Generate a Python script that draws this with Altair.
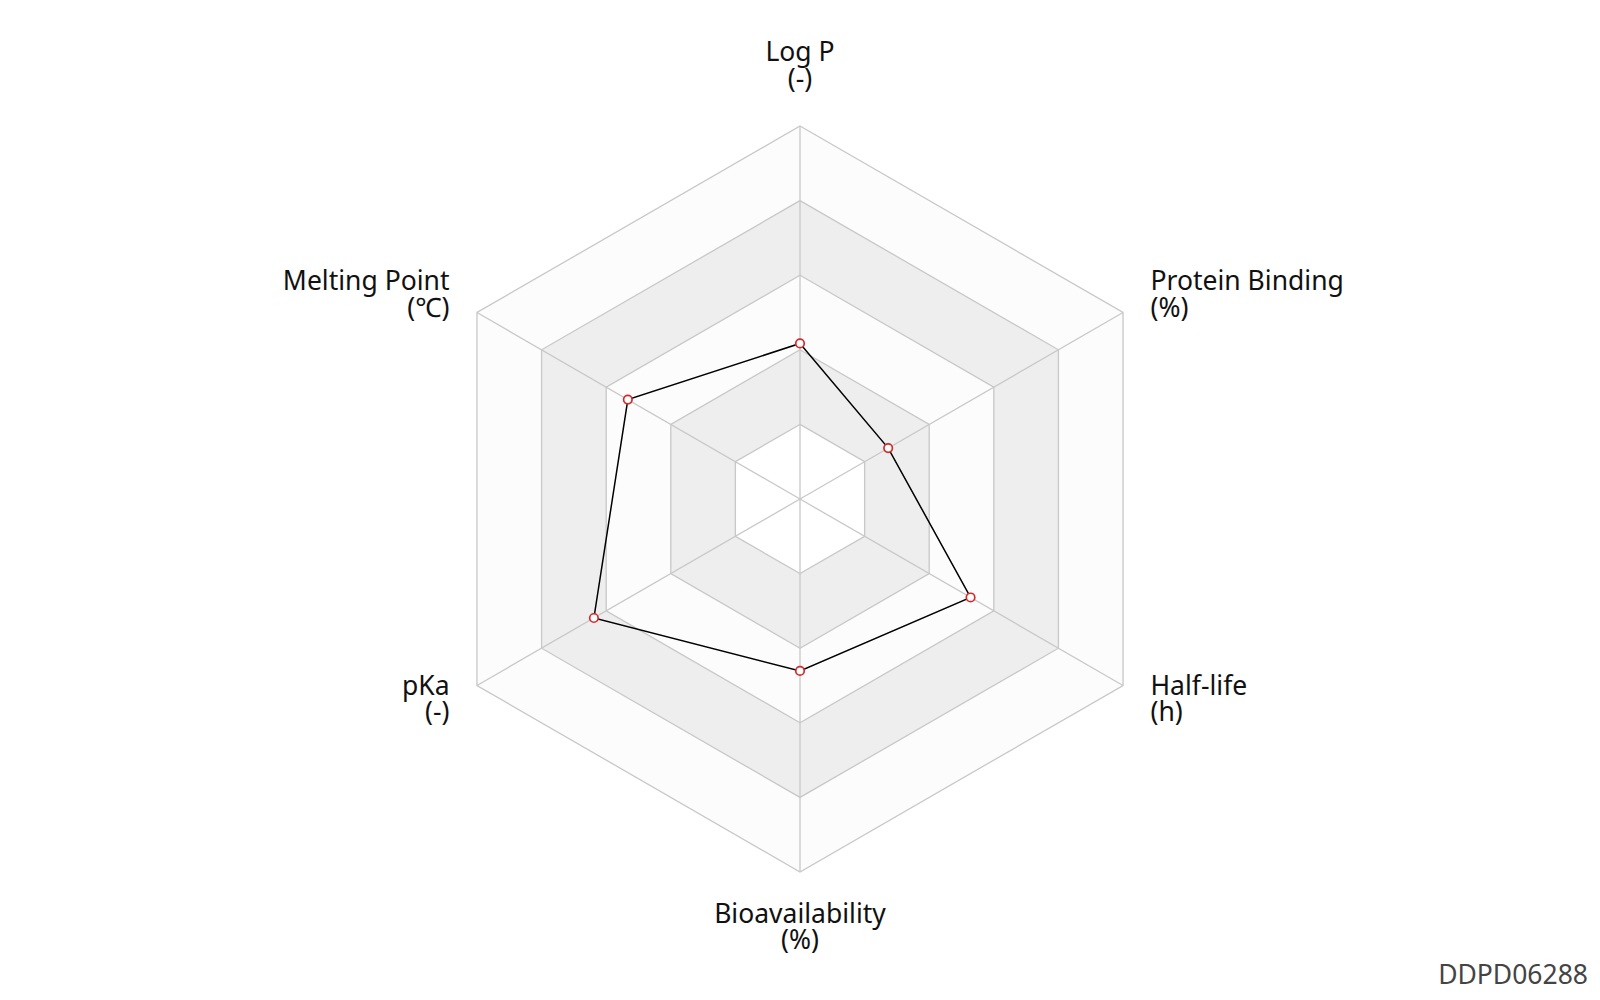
import altair as alt
import pandas as pd

# ---- data ----
axes = ["Log P", "Protein Binding", "Half-life", "Bioavailability", "pKa", "Melting Point"]
units = ["(-)", "(%)", "(h)", "(%)", "(-)", "(℃)"]
values = [0.417, 0.273, 0.528, 0.461, 0.638, 0.533]   # normalised 0..1
ring_levels = [1.0, 0.8, 0.6, 0.4, 0.2]
ring_fills = ["#fcfcfc", "#eeeeee", "#fcfcfc", "#eeeeee", "#ffffff"]
watermark = "DDPD06288"

# ---- layout ----
W, H = 1584, 984
R = 373.0
cx, cy = 792.0, 491.0
LABEL_R = 1.085
FONT = "Noto Sans"
GRID = "#c8c8c8"
FS = 26.5
LH = 26.5

xs = alt.Scale(domain=[-cx / R, (W - cx) / R], nice=False, zero=False)
ys = alt.Scale(domain=[-(H - cy) / R, cy / R], nice=False, zero=False)

n = len(axes)
ANG = "PI/2 - datum.idx*PI/3"

axis_df = pd.DataFrame({"idx": list(range(n)), "axis": axes, "unit": units, "value": values})
grid_df = pd.DataFrame(
    [{"ring": k, "level": lvl, "idx": i} for k, lvl in enumerate(ring_levels) for i in range(n)]
)

layers = []
for k, (lvl, col) in enumerate(zip(ring_levels, ring_fills)):
    layers.append(
        alt.Chart(grid_df)
        .transform_filter(alt.datum.ring == k)
        .transform_calculate(ang=ANG)
        .transform_calculate(gx="datum.level*cos(datum.ang)", gy="datum.level*sin(datum.ang)")
        .mark_line(interpolate="linear-closed", fill=col, stroke=GRID, strokeWidth=1.3)
        .encode(
            x=alt.X("gx:Q", scale=xs, axis=None),
            y=alt.Y("gy:Q", scale=ys, axis=None),
            order=alt.Order("idx:Q"),
        )
    )

spokes = (
    alt.Chart(axis_df)
    .transform_calculate(ang=ANG)
    .transform_calculate(ex="cos(datum.ang)", ey="sin(datum.ang)", zx="0", zy="0")
    .mark_rule(stroke=GRID, strokeWidth=1.3)
    .encode(
        x=alt.X("zx:Q", scale=xs, axis=None),
        y=alt.Y("zy:Q", scale=ys, axis=None),
        x2="ex:Q",
        y2="ey:Q",
    )
)

data_base = (
    alt.Chart(axis_df)
    .transform_calculate(ang=ANG)
    .transform_calculate(px="datum.value*cos(datum.ang)", py="datum.value*sin(datum.ang)")
)
poly = data_base.mark_line(interpolate="linear-closed", stroke="black", strokeWidth=1.5).encode(
    x=alt.X("px:Q", scale=xs, axis=None),
    y=alt.Y("py:Q", scale=ys, axis=None),
    order=alt.Order("idx:Q"),
)
pts = data_base.mark_point(
    shape="circle", fill="white", stroke="#d42a2a", strokeWidth=1.7, size=72, opacity=1, filled=False
).encode(
    x=alt.X("px:Q", scale=xs, axis=None),
    y=alt.Y("py:Q", scale=ys, axis=None),
)

label_base = (
    alt.Chart(axis_df)
    .transform_calculate(ang=ANG)
    .transform_calculate(
        lx=f"{LABEL_R}*cos(datum.ang)",
        ly=f"{LABEL_R}*sin(datum.ang)",
        lab="[datum.axis, datum.unit]",
    )
)


def label_layer(idxs, align, dy):
    return (
        label_base.transform_filter(alt.FieldOneOfPredicate(field="idx", oneOf=idxs))
        .mark_text(align=align, baseline="middle", dy=dy, font=FONT, fontSize=FS, lineHeight=LH, color="#111")
        .encode(
            x=alt.X("lx:Q", scale=xs, axis=None),
            y=alt.Y("ly:Q", scale=ys, axis=None),
            text=alt.Text("lab:N"),
        )
    )


labels = [
    label_layer([0], "center", -41),
    label_layer([3], "center", 11),
    label_layer([1, 2], "left", -14.5),
    label_layer([4, 5], "right", -14.5),
]

wm = (
    alt.Chart(pd.DataFrame({"t": [watermark]}))
    .mark_text(align="right", baseline="alphabetic", font=FONT, fontSize=26.5, color="#444")
    .encode(x=alt.value(W - 4), y=alt.value(H - 8), text="t:N")
)

chart = (
    alt.layer(*layers, spokes, poly, pts, *labels, wm)
    .properties(width=W, height=H, autosize=alt.AutoSizeParams(type="none"), padding=0)
    .configure_view(stroke=None)
)

chart.save("out.html", embed_options={"renderer": "svg", "actions": False})
